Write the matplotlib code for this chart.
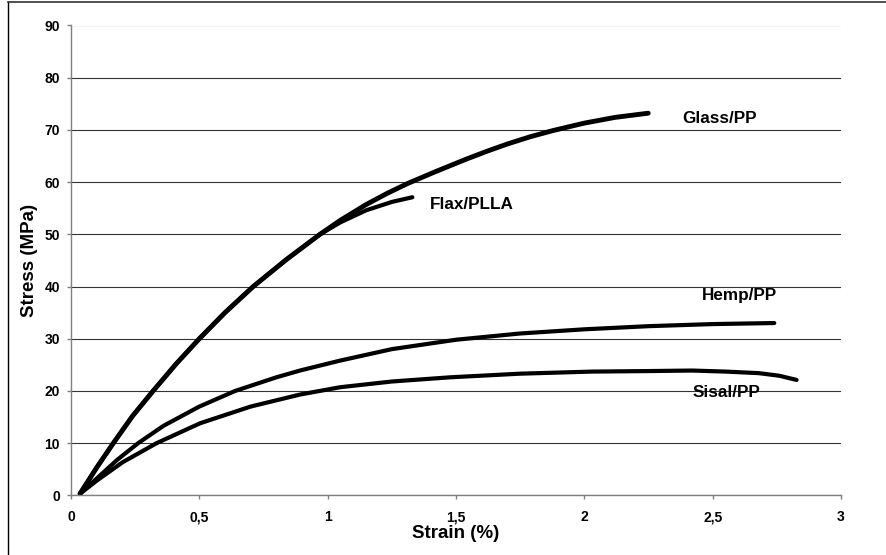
import matplotlib
matplotlib.use("Agg")
import matplotlib.pyplot as plt
from matplotlib.lines import Line2D

plt.rcParams['font.family'] = ['Liberation Sans', 'DejaVu Sans']
plt.rcParams['font.weight'] = 'bold'

# ---- data ----
glass_x = [0.035, 0.10, 0.165, 0.24, 0.32, 0.41, 0.50, 0.60, 0.71, 0.84, 0.97, 1.05, 1.15, 1.23, 1.31, 1.42, 1.54, 1.62, 1.70, 1.79, 1.88, 2.00, 2.12, 2.249]
glass_y = [0.3, 5.3, 10.0, 15.2, 20.0, 25.2, 30.0, 35.0, 40.0, 45.2, 50.0, 52.7, 55.7, 57.8, 59.7, 62.0, 64.4, 65.9, 67.3, 68.7, 69.9, 71.3, 72.4, 73.2]

flax_x = [0.035, 0.10, 0.165, 0.24, 0.32, 0.41, 0.50, 0.60, 0.71, 0.84, 0.97, 1.05, 1.15, 1.25, 1.33]
flax_y = [0.3, 5.3, 10.0, 15.2, 20.0, 25.2, 30.0, 35.0, 40.0, 45.2, 50.0, 52.3, 54.6, 56.2, 57.1]

hemp_x = [0.035, 0.10, 0.18, 0.262, 0.36, 0.50, 0.64, 0.80, 0.892, 1.048, 1.25, 1.50, 1.75, 2.00, 2.25, 2.50, 2.74]
hemp_y = [0.3, 3.2, 6.8, 10.0, 13.3, 17.0, 20.0, 22.6, 23.9, 25.8, 28.0, 29.8, 31.0, 31.8, 32.4, 32.8, 33.0]

sisal_x = [0.035, 0.10, 0.20, 0.334, 0.503, 0.70, 0.892, 1.048, 1.25, 1.476, 1.75, 2.03, 2.25, 2.42, 2.55, 2.68, 2.76, 2.827]
sisal_y = [0.3, 2.8, 6.3, 10.0, 13.8, 17.0, 19.3, 20.7, 21.8, 22.6, 23.3, 23.7, 23.8, 23.9, 23.7, 23.4, 22.9, 22.1]

x_ticks = [0, 0.5, 1, 1.5, 2, 2.5, 3]
x_tick_labels = ['0', '0,5', '1', '1,5', '2', '2,5', '3']
y_ticks = [0, 10, 20, 30, 40, 50, 60, 70, 80, 90]
y_tick_labels = ['0', '10', '20', '30', '40', '50', '60', '70', '80', '90']

series_labels = ['Glass/PP', 'Flax/PLLA', 'Hemp/PP', 'Sisal/PP']
label_pos = [(2.528, 72.25), (1.562, 55.8), (2.606, 38.2), (2.552, 19.6)]

W, H = 886, 555
fig = plt.figure(figsize=(W / 100, H / 100), dpi=100)
ax = fig.add_axes([71 / W, 1 - 495.3 / H, (841 - 71) / W, (495.3 - 25.5) / H])

ax.set_xlim(0, 3)
ax.set_ylim(0, 90)

ax.grid(axis='y', color='#333333', linewidth=0.8)
ax.set_axisbelow(True)
for s in ['top', 'right']:
    ax.spines[s].set_visible(False)
for s in ['left', 'bottom']:
    ax.spines[s].set_color('#808080')
    ax.spines[s].set_linewidth(1.0)

ax.set_xticks(x_ticks)
ax.set_xticklabels(x_tick_labels)
ax.set_yticks(y_ticks)
ax.set_yticklabels(y_tick_labels)
ax.tick_params(axis='both', colors='#808080', labelcolor='black', labelsize=10,
               length=3.1, width=1.0, direction='out')
ax.tick_params(axis='y', pad=4.8)
ax.tick_params(axis='x', pad=7.5)
for lab in ax.get_xticklabels() + ax.get_yticklabels():
    lab.set_fontweight('bold')

style = dict(color='black', solid_capstyle='round', solid_joinstyle='round', clip_on=False)
ax.plot(glass_x, glass_y, lw=3.5, **style)
ax.plot(flax_x, flax_y, lw=3.0, **style)
ax.plot(hemp_x, hemp_y, lw=3.0, **style)
ax.plot(sisal_x, sisal_y, lw=3.0, **style)

for name, (lx, ly) in zip(series_labels, label_pos):
    ax.text(lx, ly, name, ha='center', va='center', fontsize=12.3, fontweight='bold', color='black')

fig.text(456 / W, 1 - 533 / H, 'Strain (%)', ha='center', va='center', fontsize=13.5, fontweight='bold')
fig.text(30 / W, 1 - 260 / H, 'Stress (MPa)', ha='center', va='center', rotation=90, fontsize=13.5, fontweight='bold')

# figure border (left and top visible in the reference)
fig.add_artist(Line2D([7.5 / W, 7.5 / W], [0, 1 - 1.5 / H], transform=fig.transFigure, color='black', lw=1.0))
fig.add_artist(Line2D([7.5 / W, 1], [1 - 1.5 / H, 1 - 1.5 / H], transform=fig.transFigure, color='#333333', lw=1.2))

fig.savefig('out.png', dpi=100)
